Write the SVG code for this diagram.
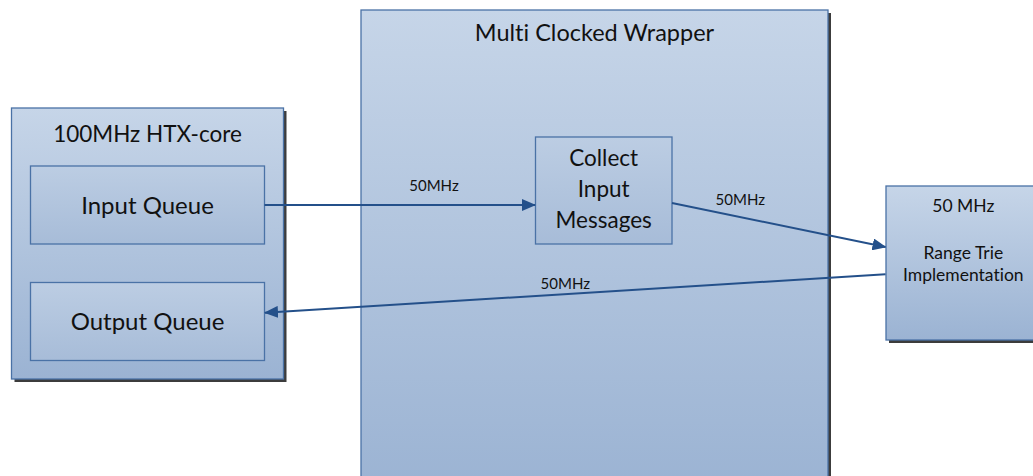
<svg xmlns="http://www.w3.org/2000/svg" width="1033" height="476" viewBox="0 0 1033 476">
<style>
.box{fill:url(#g);stroke:#4a72a6;stroke-width:1.3}
.inner{fill:url(#g2);stroke:#4a72a6;stroke-width:1.3}
.shadow{fill:#3c3c3c}
.t{font-family:Lato,"Liberation Sans",sans-serif;fill:#111;text-anchor:middle;font-variant-ligatures:none;font-feature-settings:"liga" 0,"clig" 0}
.lbl{font-family:Lato,"Liberation Sans",sans-serif;fill:#111;text-anchor:middle;font-size:15px}
.conn{stroke:#24508a;stroke-width:2;fill:none;marker-end:url(#ah)}
</style>
<defs>
<linearGradient id="g" x1="0" y1="0" x2="0" y2="1">
<stop offset="0" stop-color="#c6d5e8"/>
<stop offset="1" stop-color="#9bb3d3"/>
</linearGradient>
<linearGradient id="g2" x1="0" y1="0" x2="0" y2="1">
<stop offset="0" stop-color="#bccde3"/>
<stop offset="1" stop-color="#a7bcd8"/>
</linearGradient>
<marker id="ah" markerUnits="userSpaceOnUse" markerWidth="14" markerHeight="12" refX="13" refY="6" orient="auto">
<path d="M0,0 L14,6 L0,12 z" fill="#24508a"/>
</marker>
</defs>
<rect width="1033" height="476" fill="#fff"/>
<g id="htx-core">
<rect class="shadow" x="14.5" y="111" width="272" height="271"/>
<rect class="box" x="11.5" y="108" width="272" height="271"/>
<text class="t" x="147.5" y="141.5" font-size="22.5">100MHz HTX-core</text>
</g>
<g id="input-queue">
<rect class="inner" x="30.5" y="166" width="234" height="78"/>
<text class="t" x="147.5" y="213.5" font-size="24">Input Queue</text>
</g>
<g id="output-queue">
<rect class="inner" x="30.5" y="282.5" width="234" height="78"/>
<text class="t" x="147.5" y="330" font-size="24">Output Queue</text>
</g>
<g id="wrapper">
<rect class="shadow" x="364" y="13" width="467" height="480"/>
<rect class="box" x="361" y="10" width="467" height="480"/>
<text class="t" x="594.5" y="41" font-size="23.5">Multi Clocked Wrapper</text>
</g>
<g id="collect">
<rect class="inner" x="535.5" y="137" width="136.5" height="107"/>
<text class="t" font-size="22.5"><tspan x="603.7" y="166">Collect</tspan><tspan x="603.7" y="196.7">Input</tspan><tspan x="603.7" y="227.5">Messages</tspan></text>
</g>
<g id="range-trie">
<rect class="shadow" x="889" y="189" width="160" height="154"/>
<rect class="box" x="886" y="186" width="160" height="154"/>
<text class="t" font-size="17.5"><tspan x="963.3" y="211.5">50 MHz</tspan><tspan x="963.3" y="259.3">Range Trie</tspan><tspan x="963.3" y="281">Implementation</tspan></text>
</g>
<g id="connectors">
<line class="conn" x1="264.5" y1="205" x2="535" y2="205"/>
<line class="conn" x1="672" y1="203" x2="885.5" y2="247"/>
<line class="conn" x1="885.5" y1="274.3" x2="265" y2="312.7"/>
<text class="lbl" x="434" y="190.7">50MHz</text>
<text class="lbl" x="740.3" y="205">50MHz</text>
<text class="lbl" x="565.3" y="289.3">50MHz</text>
</g>
</svg>
